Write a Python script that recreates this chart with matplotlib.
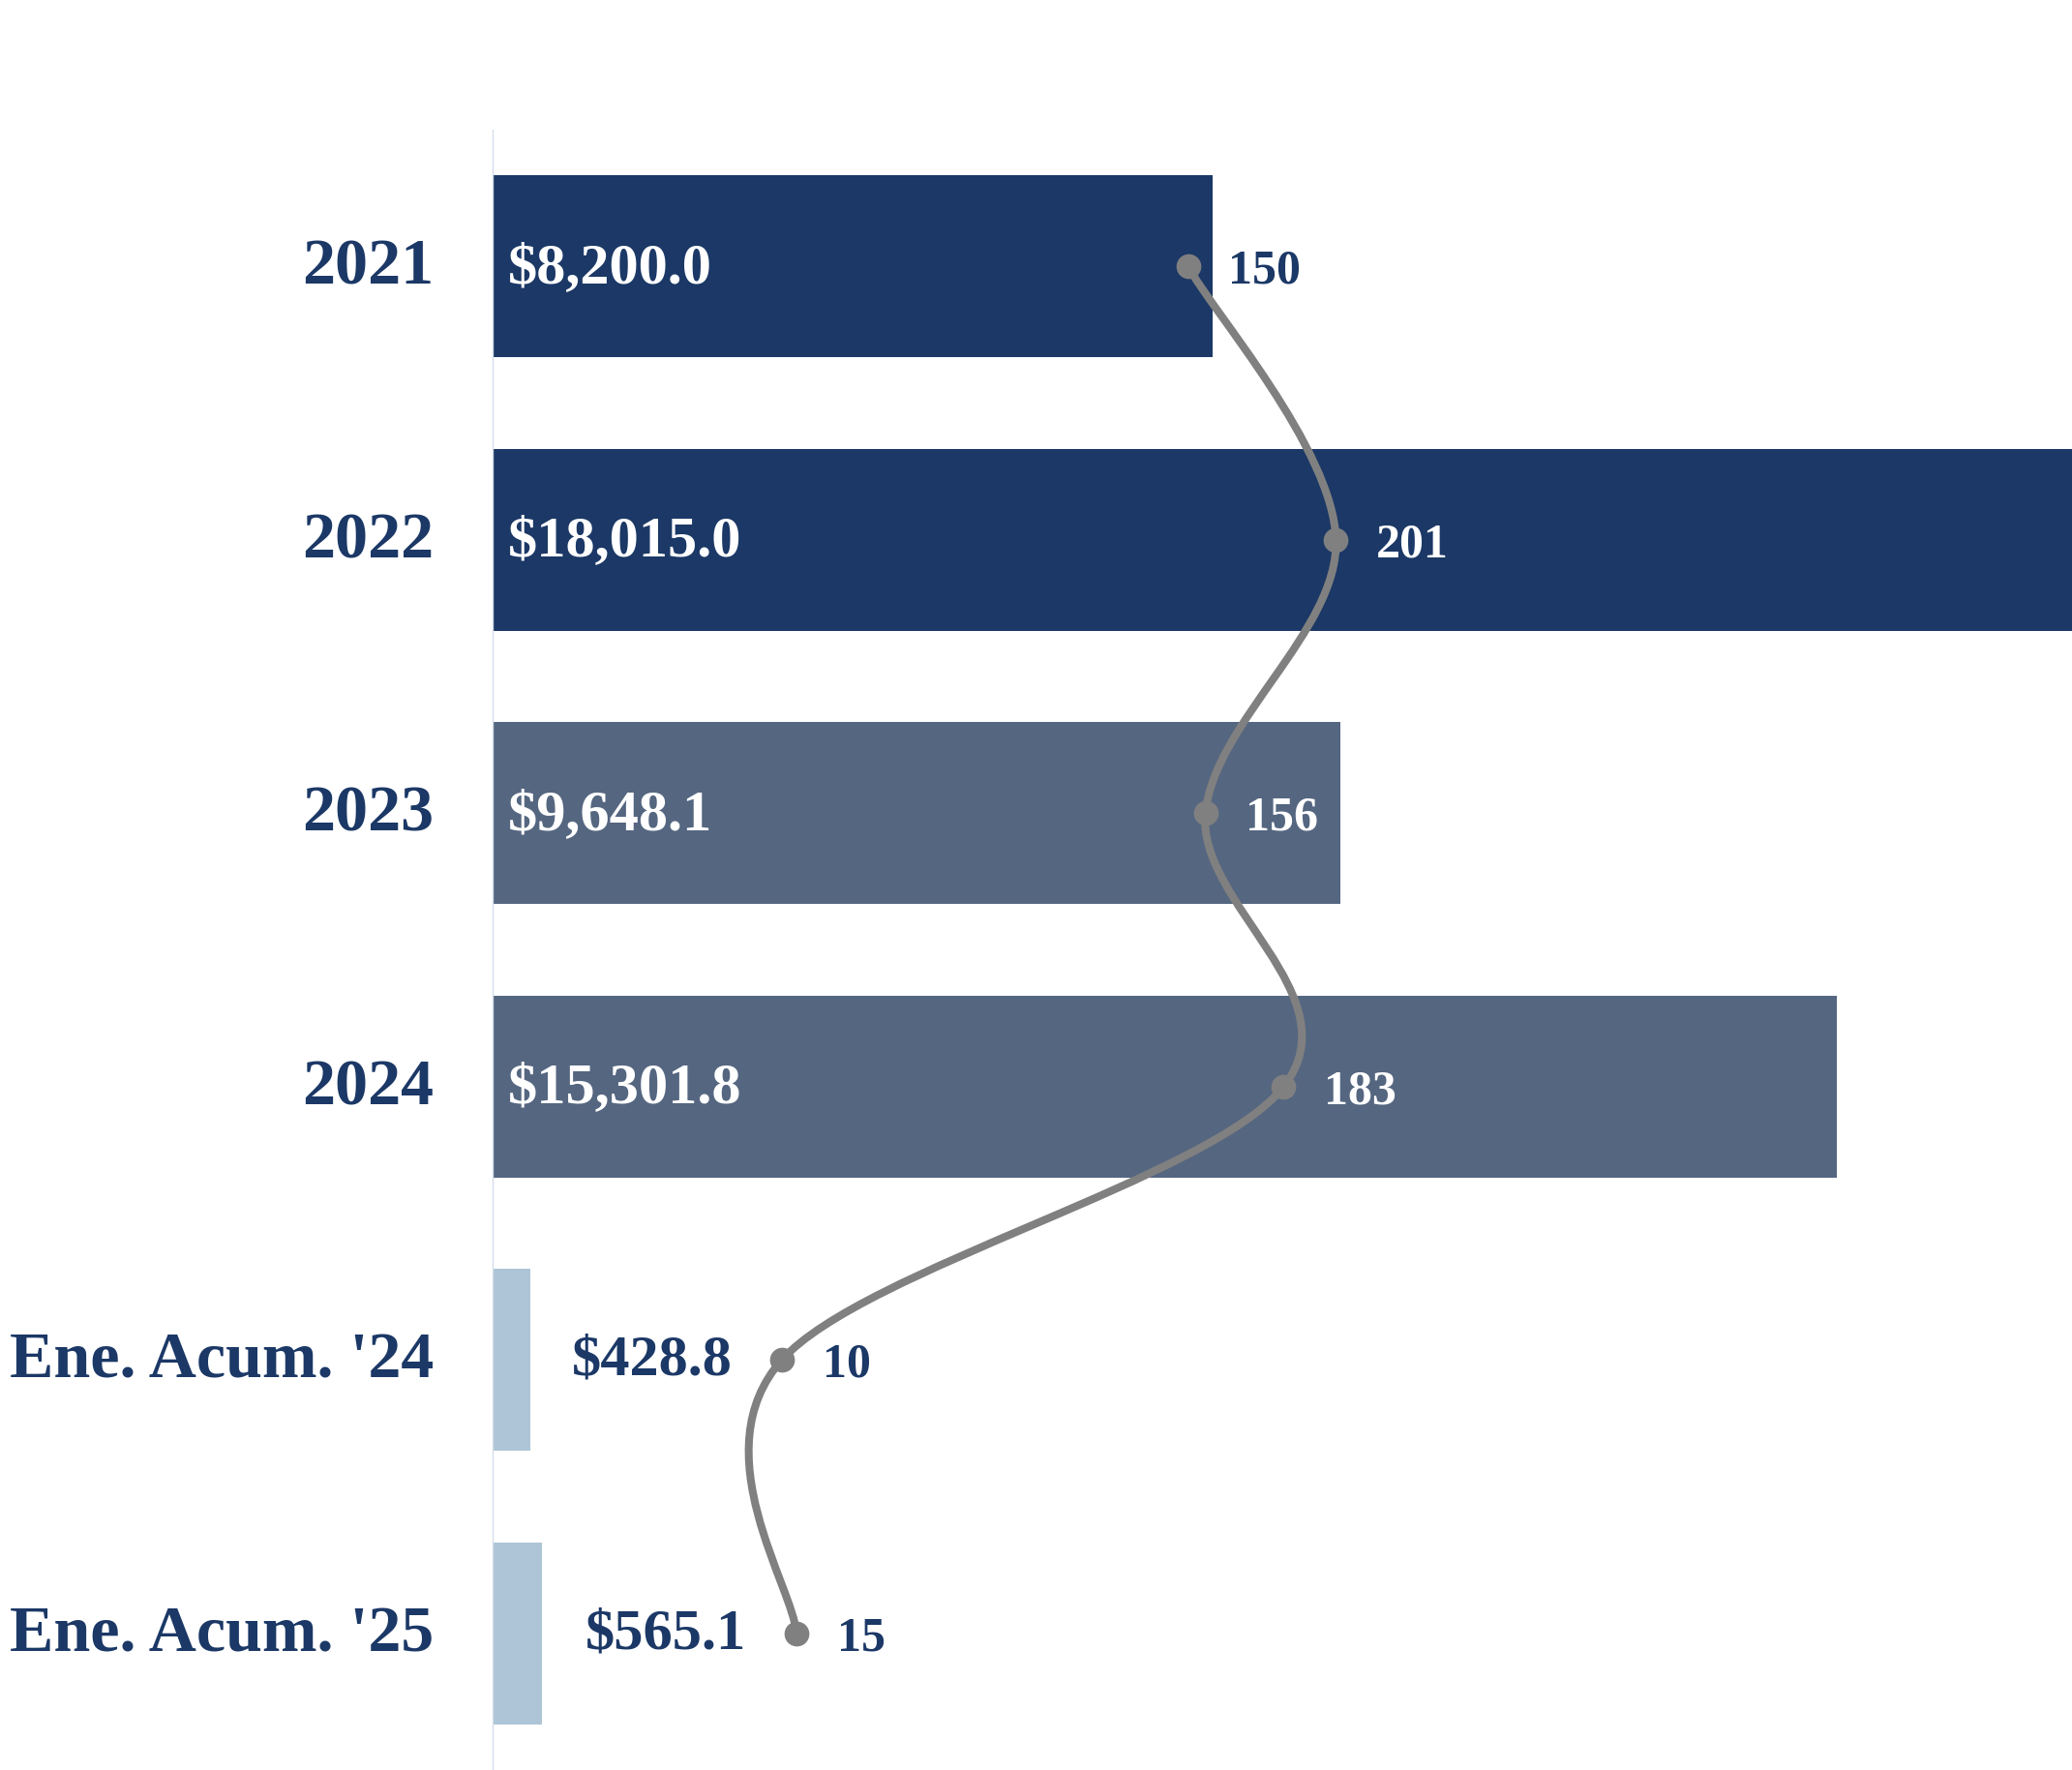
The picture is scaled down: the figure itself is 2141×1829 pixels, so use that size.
import matplotlib
matplotlib.use('Agg')
import matplotlib.pyplot as plt
import numpy as np
from matplotlib.path import Path
from matplotlib.patches import PathPatch

categories = ["2021", "2022", "2023", "2024", "Ene. Acum. '24", "Ene. Acum. '25"]
amounts = [8200.0, 18015.0, 9648.1, 15301.8, 428.8, 565.1]
amount_labels = ["$8,200.0", "$18,015.0", "$9,648.1", "$15,301.8", "$428.8", "$565.1"]
counts = [150, 201, 156, 183, 10, 15]
bar_colors = ['#1B3866', '#1B3866', '#556680', '#556680', '#ADC5D6', '#ADC5D6']

NAVY = '#1B3866'
GRAY = '#808080'
FONT = 'Liberation Serif'

W, H = 2141, 1829
fig = plt.figure(figsize=(W / 100, H / 100), dpi=100)
ax = fig.add_axes([509 / W, 0, 1 - 509 / W, (H - 134) / H])
y = np.arange(len(categories))
ax.barh(y, amounts, height=0.667, color=bar_colors, zorder=1)
ax.set_ylim(len(categories) - 0.5, -0.5)
ax.set_xlim(0, 17980)
for s in ['top', 'right', 'bottom']:
    ax.spines[s].set_visible(False)
ax.spines['left'].set_color('#D5DEEB')
ax.spines['left'].set_linewidth(1.0)
ax.set_xticks([])
ax.set_yticks([])

for i, cat in enumerate(categories):
    ax.annotate(cat, xy=(0, y[i]), xytext=(-44, -1.5), textcoords='offset points',
                ha='right', va='center', fontsize=49, fontweight='bold',
                color=NAVY, family=FONT, annotation_clip=False)

ax2 = ax.twiny()
ax2.set_xlim(-89.7, 454.7)
ax2.set_ylim(len(categories) - 0.5, -0.5)
for s in ax2.spines.values():
    s.set_visible(False)
ax2.set_xticks([])

# smooth curve: uniform Catmull-Rom (cardinal, tension 0) through the points
P = np.column_stack([np.asarray(counts, float), y.astype(float)])
n = len(P)
ext = np.vstack([P[0], P, P[-1]])
verts = [tuple(P[0])]
codes = [Path.MOVETO]
for i in range(n - 1):
    p0, p1, p2, p3 = ext[i], ext[i + 1], ext[i + 2], ext[i + 3]
    c1 = p1 + (p2 - p0) / 6.0
    c2 = p2 - (p3 - p1) / 6.0
    verts += [tuple(c1), tuple(c2), tuple(p2)]
    codes += [Path.CURVE4] * 3
patch = PathPatch(Path(verts, codes), facecolor='none', edgecolor=GRAY,
                  linewidth=5.8, zorder=3, capstyle='round')
ax2.add_patch(patch)
ax2.plot(counts, y, 'o', color=GRAY, markersize=17.5, zorder=4)

fig.canvas.draw()
pts = ax2.transData.transform(P)
bar_end_disp = ax.transData.transform(np.column_stack([amounts, y]))[:, 0]

for i in range(n):
    # count labels
    lab_left = pts[i][0] + 41
    col = 'white' if lab_left + 60 < bar_end_disp[i] else NAVY
    ax2.annotate(str(counts[i]), xy=(counts[i], y[i]), xytext=(30, -4),
                 textcoords='offset points', ha='left', va='center',
                 fontsize=36, fontweight='bold', color=col, family=FONT, zorder=5)
    # amount labels
    if amounts[i] / 17980 > 0.15:
        ax.annotate(amount_labels[i], xy=(0, y[i]), xytext=(11.5, -2),
                    textcoords='offset points', ha='left', va='center',
                    fontsize=43.5, fontweight='bold', color='white', family=FONT, zorder=5)
    else:
        ax2.annotate(amount_labels[i], xy=(counts[i], y[i]), xytext=(-37, -1),
                     textcoords='offset points', ha='right', va='center',
                     fontsize=43.5, fontweight='bold', color=NAVY, family=FONT, zorder=5)

fig.savefig('out.png', dpi=100)
